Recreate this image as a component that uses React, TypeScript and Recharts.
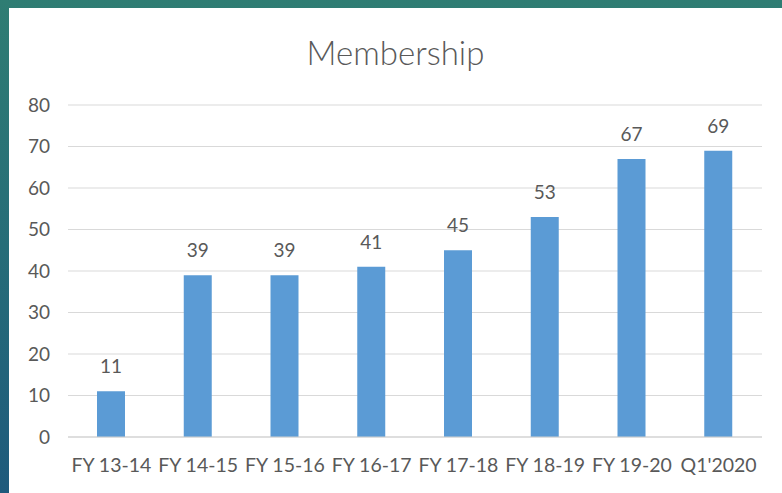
import React from 'react';
import { BarChart, Bar, XAxis, YAxis, CartesianGrid, LabelList } from 'recharts';

const periods = ['FY 13-14', 'FY 14-15', 'FY 15-16', 'FY 16-17', 'FY 17-18', 'FY 18-19', 'FY 19-20', "Q1'2020"];
const members = [11, 39, 39, 41, 45, 53, 67, 69];
const yTicks = [0, 10, 20, 30, 40, 50, 60, 70, 80];

const data = periods.map((name, i) => ({ name, value: members[i] }));

const TEXT = '#595959';

const App: React.FC = () => (
    <div style={{ position: 'absolute', left: 0, top: 0, width: 782, height: 493, overflow: 'hidden',
        background: 'linear-gradient(180deg, #2f7d73 0%, #266d78 50%, #1e5a7c 100%)' }}>
        <div style={{ position: 'absolute', left: 9, top: 8, width: 773, height: 485, background: '#ffffff', fontFamily: 'Lato, sans-serif' }}>
            <div style={{ position: 'absolute', left: 0, width: 773, top: 24, textAlign: 'center', fontSize: 33, fontWeight: 300, color: TEXT, lineHeight: '40px' }}>
                Membership
            </div>
            <BarChart width={773} height={485} data={data} margin={{ top: 97, right: 20, bottom: 26, left: 0 }} barSize={28}>
                <CartesianGrid vertical={false} stroke="#d9d9d9" />
                <XAxis dataKey="name" axisLine={{ stroke: '#d0d0d0' }} tickLine={false} tickMargin={15}
                    tick={{ fill: TEXT, fontSize: 19.5 }} interval={0} />
                <YAxis width={59} domain={[0, 80]} ticks={yTicks} axisLine={false} tickLine={false} tickMargin={12}
                    tick={{ fill: TEXT, fontSize: 19 }} />
                <Bar dataKey="value" fill="#5b9bd5" isAnimationActive={false}>
                    <LabelList dataKey="value" position="top" offset={18} fill={TEXT} fontSize={19} />
                </Bar>
            </BarChart>
        </div>
    </div>
);

export default App;
